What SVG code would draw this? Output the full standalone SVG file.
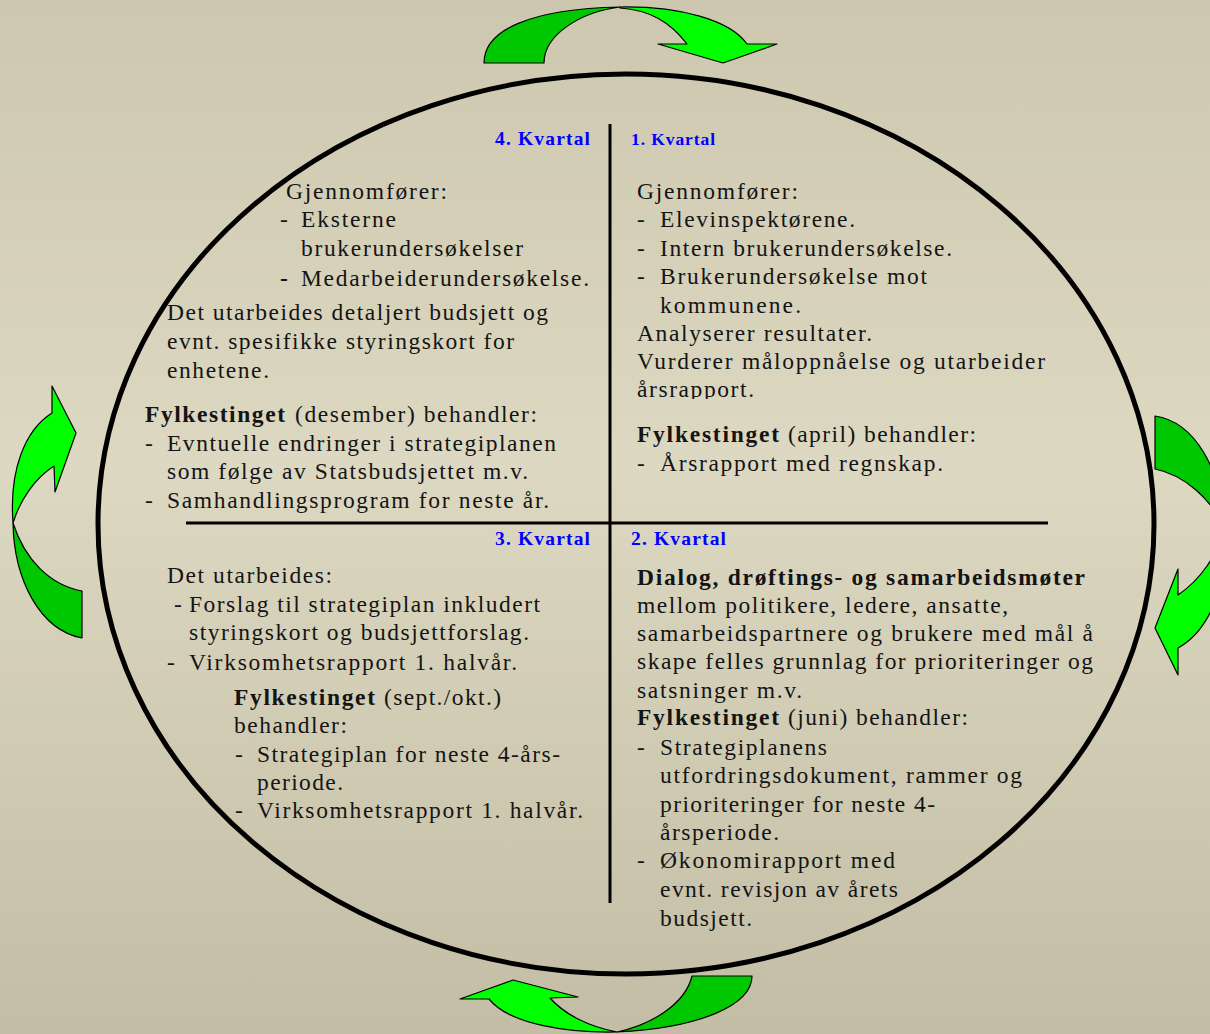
<svg xmlns="http://www.w3.org/2000/svg" width="1210" height="1034" viewBox="0 0 1210 1034">
  <defs>
    <linearGradient id="bg" x1="0" y1="0" x2="0" y2="1">
      <stop offset="0" stop-color="#CDC7AF"/>
      <stop offset="0.45" stop-color="#DDD8C1"/>
      <stop offset="1" stop-color="#C3BDA5"/>
    </linearGradient>
    <clipPath id="clipQ1">
      <rect x="600" y="100" width="500" height="299"/>
    </clipPath>
    <style>
      .t { font-family: "Liberation Serif", "Times New Roman", serif; font-size: 23.5px; fill: #141414; }
      .b { font-family: "Liberation Serif", "Times New Roman", serif; font-size: 23.5px; font-weight: bold; fill: #141414; }
      .k { font-family: "Liberation Serif", "Times New Roman", serif; font-size: 19.5px; font-weight: bold; fill: #0000FF; }
      .k1 { font-family: "Liberation Serif", "Times New Roman", serif; font-size: 17.5px; font-weight: bold; fill: #0000FF; }
      .light { fill: #00FF00; stroke: #000; stroke-width: 1.2; stroke-linejoin: round; }
      .dark { fill: #00C800; stroke: #000; stroke-width: 1.2; stroke-linejoin: round; }
      .div { stroke: #000; stroke-width: 3; }
    </style>
  </defs>

  <rect id="background" x="0" y="0" width="1210" height="1034" fill="url(#bg)"/>

  <g id="cycle">
    <ellipse cx="626" cy="524" rx="528" ry="450" fill="none" stroke="#000" stroke-width="5"/>
    <line class="div" x1="610" y1="124" x2="610" y2="903"/>
    <line class="div" x1="186" y1="523" x2="1048" y2="523"/>
  </g>

  <g id="connectors">
    <g id="arrow-top">
      <path class="dark" d="M484,63 C484,30 530,9 620,7 C580,12 544,35 544,63 Z"/>
      <path class="light" d="M620,7 C680,6 730,20 747,44 L777,44 L723,63 L658,44 L687,44 C670,22 650,10 620,8 Z"/>
    </g>
    <g id="arrow-right">
      <path class="dark" d="M1155,416 C1195,422 1222,470 1224,528 C1212,500 1185,475 1155,469 Z"/>
      <path class="light" d="M1224,528 C1228,585 1210,630 1178,648 L1178,675 L1155,628 L1178,569 L1178,595 C1200,580 1218,555 1224,528 Z"/>
    </g>
    <g id="arrow-bottom">
      <path class="dark" d="M752,976 C752,1005 700,1028 617,1032 C650,1025 685,1005 692,976 Z"/>
      <path class="light" d="M617,1032 C570,1033 510,1025 489,999 L460,999 L513,980 L578,997 L550,998 C565,1015 590,1027 617,1032 Z"/>
    </g>
    <g id="arrow-left">
      <path class="dark" d="M13,523 C14,580 40,630 82,638 L82,591 C50,585 25,560 13,523 Z"/>
      <path class="light" d="M13,523 C9,470 25,430 52,413 L52,386 L76,433 L55,492 L54,466 C35,478 20,500 13,523 Z"/>
    </g>
  </g>

  <g id="q4">
    <text class="k" x="495" y="145" textLength="95" lengthAdjust="spacing">4. Kvartal</text>
    <text class="t" x="286" y="199" textLength="161" lengthAdjust="spacing">Gjennomfører:</text>
    <text class="t" x="280" y="227">-</text>
    <text class="t" x="301" y="227" textLength="95" lengthAdjust="spacing">Eksterne</text>
    <text class="t" x="301" y="256" textLength="222" lengthAdjust="spacing">brukerundersøkelser</text>
    <text class="b" x="280" y="286">-</text>
    <text class="t" x="301" y="286" textLength="288" lengthAdjust="spacing">Medarbeiderundersøkelse.</text>
    <text class="t" x="167" y="320" textLength="381" lengthAdjust="spacing">Det utarbeides detaljert budsjett og</text>
    <text class="t" x="167" y="349" textLength="347" lengthAdjust="spacing">evnt. spesifikke styringskort for</text>
    <text class="t" x="167" y="378" textLength="102" lengthAdjust="spacing">enhetene.</text>
    <text class="b" x="145" y="422" textLength="140" lengthAdjust="spacing">Fylkestinget</text>
    <text class="t" x="295" y="422" textLength="242" lengthAdjust="spacing">(desember) behandler:</text>
    <text class="t" x="145" y="451">-</text>
    <text class="t" x="167" y="451" textLength="389" lengthAdjust="spacing">Evntuelle endringer i strategiplanen</text>
    <text class="t" x="167" y="479" textLength="361" lengthAdjust="spacing">som følge av Statsbudsjettet m.v.</text>
    <text class="t" x="145" y="508">-</text>
    <text class="t" x="167" y="508" textLength="382" lengthAdjust="spacing">Samhandlingsprogram for neste år.</text>
  </g>

  <g id="q1">
    <text class="k1" x="631" y="145" textLength="84" lengthAdjust="spacing">1. Kvartal</text>
    <text class="t" x="637" y="199" textLength="161" lengthAdjust="spacing">Gjennomfører:</text>
    <text class="t" x="637" y="227">-</text>
    <text class="t" x="660" y="227" textLength="195" lengthAdjust="spacing">Elevinspektørene.</text>
    <text class="t" x="637" y="256">-</text>
    <text class="t" x="660" y="256" textLength="292" lengthAdjust="spacing">Intern brukerundersøkelse.</text>
    <text class="t" x="637" y="284">-</text>
    <text class="t" x="660" y="284" textLength="267" lengthAdjust="spacing">Brukerundersøkelse mot</text>
    <text class="t" x="660" y="313" textLength="141" lengthAdjust="spacing">kommunene.</text>
    <text class="t" x="637" y="341" textLength="235" lengthAdjust="spacing">Analyserer resultater.</text>
    <text class="t" x="637" y="369" textLength="408" lengthAdjust="spacing">Vurderer måloppnåelse og utarbeider</text>
    <text class="t" x="637" y="397" textLength="117" lengthAdjust="spacing" clip-path="url(#clipQ1)">årsrapport.</text>
    <text class="b" x="637" y="442" textLength="142" lengthAdjust="spacing">Fylkestinget</text>
    <text class="t" x="788" y="442" textLength="188" lengthAdjust="spacing">(april) behandler:</text>
    <text class="t" x="637" y="471">-</text>
    <text class="t" x="660" y="471" textLength="283" lengthAdjust="spacing">Årsrapport med regnskap.</text>
  </g>

  <g id="q3">
    <text class="k" x="495" y="545" textLength="95" lengthAdjust="spacing">3. Kvartal</text>
    <text class="t" x="167" y="583" textLength="165" lengthAdjust="spacing">Det utarbeides:</text>
    <text class="t" x="174" y="612">-</text>
    <text class="t" x="189" y="612" textLength="351" lengthAdjust="spacing">Forslag til strategiplan inkludert</text>
    <text class="t" x="189" y="640" textLength="340" lengthAdjust="spacing">styringskort og budsjettforslag.</text>
    <text class="t" x="167" y="670">-</text>
    <text class="t" x="189" y="670" textLength="328" lengthAdjust="spacing">Virksomhetsrapport 1. halvår.</text>
    <text class="b" x="234" y="705" textLength="141" lengthAdjust="spacing">Fylkestinget</text>
    <text class="t" x="384" y="705" textLength="117" lengthAdjust="spacing">(sept./okt.)</text>
    <text class="t" x="234" y="733" textLength="113" lengthAdjust="spacing">behandler:</text>
    <text class="t" x="235" y="762">-</text>
    <text class="t" x="257" y="762" textLength="303" lengthAdjust="spacing">Strategiplan for neste 4-års-</text>
    <text class="t" x="257" y="790" textLength="86" lengthAdjust="spacing">periode.</text>
    <text class="t" x="235" y="818">-</text>
    <text class="t" x="257" y="818" textLength="326" lengthAdjust="spacing">Virksomhetsrapport 1. halvår.</text>
  </g>

  <g id="q2">
    <text class="k" x="631" y="545" textLength="95" lengthAdjust="spacing">2. Kvartal</text>
    <text class="b" x="637" y="585" textLength="448" lengthAdjust="spacing">Dialog, drøftings- og samarbeidsmøter</text>
    <text class="t" x="637" y="613" textLength="371" lengthAdjust="spacing">mellom politikere, ledere, ansatte,</text>
    <text class="t" x="637" y="641" textLength="456" lengthAdjust="spacing">samarbeidspartnere og brukere med mål å</text>
    <text class="t" x="637" y="669" textLength="456" lengthAdjust="spacing">skape felles grunnlag for prioriteringer og</text>
    <text class="t" x="637" y="698" textLength="165" lengthAdjust="spacing">satsninger m.v.</text>
    <text class="b" x="637" y="725" textLength="142" lengthAdjust="spacing">Fylkestinget</text>
    <text class="t" x="788" y="725" textLength="180" lengthAdjust="spacing">(juni) behandler:</text>
    <text class="t" x="637" y="755">-</text>
    <text class="t" x="660" y="755" textLength="167" lengthAdjust="spacing">Strategiplanens</text>
    <text class="t" x="660" y="783" textLength="362" lengthAdjust="spacing">utfordringsdokument, rammer og</text>
    <text class="t" x="660" y="812" textLength="275" lengthAdjust="spacing">prioriteringer for neste 4-</text>
    <text class="t" x="660" y="840" textLength="119" lengthAdjust="spacing">årsperiode.</text>
    <text class="t" x="637" y="868">-</text>
    <text class="t" x="660" y="868" textLength="235" lengthAdjust="spacing">Økonomirapport med</text>
    <text class="t" x="660" y="897" textLength="238" lengthAdjust="spacing">evnt. revisjon av årets</text>
    <text class="t" x="660" y="926" textLength="92" lengthAdjust="spacing">budsjett.</text>
  </g>
</svg>
